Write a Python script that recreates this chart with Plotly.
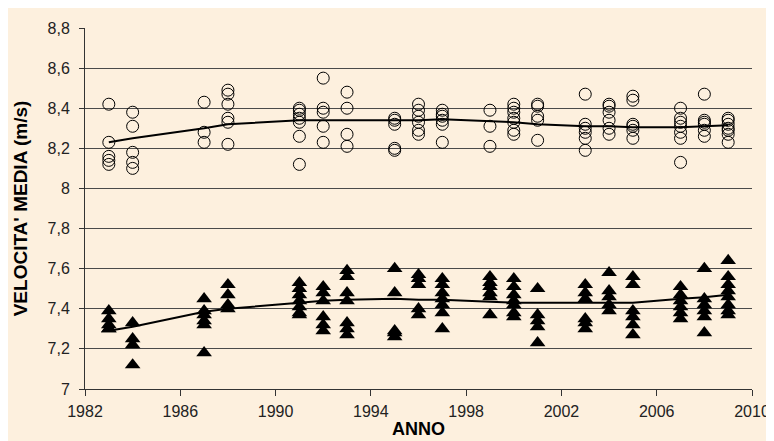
import plotly.graph_objects as go

years = [1983, 1984, 1987, 1988, 1991, 1992, 1993, 1995, 1996, 1997,
         1999, 2000, 2001, 2003, 2004, 2005, 2007, 2008, 2009]

# Upper series (open circles), one list per year
circle_values = [
    [8.42, 8.23, 8.16, 8.14, 8.12],
    [8.38, 8.31, 8.18, 8.13, 8.10],
    [8.43, 8.28, 8.23],
    [8.49, 8.47, 8.42, 8.35, 8.33, 8.22],
    [8.40, 8.39, 8.37, 8.35, 8.33, 8.26, 8.12],
    [8.55, 8.40, 8.38, 8.31, 8.23],
    [8.48, 8.40, 8.27, 8.21],
    [8.35, 8.34, 8.32, 8.20, 8.19],
    [8.42, 8.39, 8.36, 8.33, 8.29, 8.27],
    [8.39, 8.37, 8.36, 8.34, 8.32, 8.23],
    [8.39, 8.31, 8.21],
    [8.42, 8.40, 8.38, 8.35, 8.33, 8.29, 8.27],
    [8.42, 8.41, 8.36, 8.34, 8.24],
    [8.47, 8.32, 8.30, 8.28, 8.25, 8.19],
    [8.42, 8.41, 8.38, 8.34, 8.30, 8.27],
    [8.46, 8.44, 8.32, 8.31, 8.29, 8.25],
    [8.40, 8.35, 8.33, 8.31, 8.28, 8.25, 8.13],
    [8.47, 8.34, 8.33, 8.32, 8.29, 8.26],
    [8.35, 8.34, 8.32, 8.30, 8.29, 8.27, 8.23],
]

# Lower series (filled triangles), one list per year
triangle_values = [
    [7.39, 7.35, 7.32, 7.30, 7.30],
    [7.33, 7.25, 7.22, 7.12],
    [7.45, 7.39, 7.37, 7.34, 7.32, 7.18],
    [7.52, 7.47, 7.42, 7.40],
    [7.53, 7.50, 7.47, 7.44, 7.41, 7.38, 7.37],
    [7.51, 7.48, 7.44, 7.36, 7.32, 7.29],
    [7.59, 7.56, 7.48, 7.44, 7.33, 7.30, 7.27],
    [7.60, 7.48, 7.29, 7.28, 7.26],
    [7.57, 7.55, 7.52, 7.40, 7.37],
    [7.55, 7.52, 7.48, 7.45, 7.42, 7.38, 7.30],
    [7.56, 7.53, 7.51, 7.48, 7.46, 7.37],
    [7.55, 7.51, 7.47, 7.44, 7.42, 7.38, 7.36],
    [7.50, 7.37, 7.34, 7.31, 7.23],
    [7.52, 7.48, 7.45, 7.35, 7.33, 7.30],
    [7.58, 7.49, 7.46, 7.42, 7.39],
    [7.56, 7.52, 7.39, 7.36, 7.32, 7.27],
    [7.51, 7.47, 7.44, 7.41, 7.38, 7.35],
    [7.60, 7.45, 7.42, 7.39, 7.36, 7.28],
    [7.64, 7.56, 7.52, 7.49, 7.46, 7.42, 7.39, 7.37],
]

# Trend lines (values at each data year)
circle_trend = [8.23, 8.25, 8.30, 8.32, 8.34, 8.34, 8.34, 8.34, 8.34, 8.345,
                8.335, 8.33, 8.32, 8.31, 8.31, 8.305, 8.305, 8.31, 8.315]
triangle_trend = [7.29, 7.31, 7.385, 7.40, 7.43, 7.44, 7.445, 7.45, 7.445, 7.445,
                  7.435, 7.43, 7.43, 7.43, 7.43, 7.43, 7.45, 7.458, 7.47]

x_ticks = [1982, 1986, 1990, 1994, 1998, 2002, 2006, 2010]

cx, cy = [], []
for yr, vals in zip(years, circle_values):
    cx += [yr] * len(vals)
    cy += vals
tx, ty = [], []
for yr, vals in zip(years, triangle_values):
    tx += [yr] * len(vals)
    ty += vals

fig = go.Figure()
fig.add_trace(go.Scatter(x=cx, y=cy, mode="markers",
                         marker=dict(symbol="circle-open", size=12, color="black",
                                     line=dict(width=1, color="black")),
                         showlegend=False))
fig.add_trace(go.Scatter(x=tx, y=ty, mode="markers",
                         marker=dict(symbol="triangle-up", size=13.6, color="black",
                                     line=dict(width=0)),
                         showlegend=False))
fig.add_trace(go.Scatter(x=years, y=circle_trend, mode="lines",
                         line=dict(color="black", width=2), showlegend=False))
fig.add_trace(go.Scatter(x=years, y=triangle_trend, mode="lines",
                         line=dict(color="black", width=2), showlegend=False))

bg = "#FDF0DE"
fig.update_layout(
    width=774, height=441,
    margin=dict(l=77, r=20, t=18, b=60),
    paper_bgcolor=bg, plot_bgcolor=bg,
    separators=",.",
    font=dict(family="Liberation Sans, Arial, sans-serif", size=16, color="#222"),
    xaxis=dict(range=[1982, 2010], tickvals=x_ticks, showgrid=False, zeroline=False,
               showline=True, linecolor="#333", linewidth=1,
               ticks="outside", ticklen=6, tickcolor="#333",
               tickfont=dict(size=16), ticklabelstandoff=2,
               title=dict(text="<b>ANNO</b>", font=dict(size=18, color="black"), standoff=3)),
    yaxis=dict(range=[7, 8.8], dtick=0.2, tick0=7, showgrid=True, gridcolor="#4a4a4a",
               gridwidth=1, zeroline=False, showline=True, linecolor="#333", linewidth=1,
               ticks="outside", ticklen=5, tickcolor="#333",
               tickfont=dict(size=16), ticklabelstandoff=6,
               title=dict(text="<b>VELOCITA' MEDIA (m/s)</b>", font=dict(size=19, color="black"),
                          standoff=14)),
)

fig.write_html("out.html")
